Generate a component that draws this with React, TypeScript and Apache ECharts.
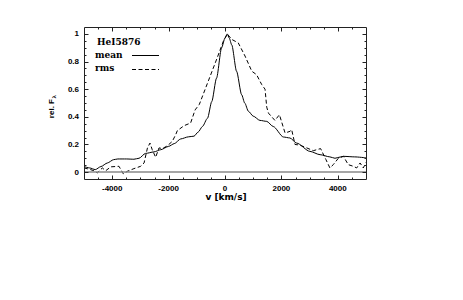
import React, { useEffect, useRef } from "react";
import * as echarts from "echarts";

// velocity (km/s) and relative flux of the mean spectrum
const meanV = [-5000, -4800, -4600, -4400, -4170, -3950, -3800, -3500, -3230, -3050, -2820, -2520, -2280, -2000, -1800, -1570, -1300, -1100, -950, -800, -620, -470, -300, -120, 0, 80, 150, 240, 410, 590, 700, 830, 1000, 1240, 1480, 1710, 2070, 2300, 2540, 3010, 3370, 3720, 3900, 4100, 4200, 4600, 5000];
const meanF = [0.04, 0.03, 0.018, 0.04, 0.066, 0.09, 0.095, 0.095, 0.093, 0.1, 0.135, 0.146, 0.162, 0.186, 0.206, 0.24, 0.255, 0.26, 0.29, 0.33, 0.39, 0.51, 0.68, 0.9, 0.97, 1.0, 0.97, 0.92, 0.73, 0.56, 0.5, 0.44, 0.405, 0.374, 0.367, 0.33, 0.254, 0.247, 0.21, 0.15, 0.126, 0.11, 0.1, 0.11, 0.114, 0.11, 0.103];

// velocity (km/s) and relative flux of the rms spectrum
const rmsV = [-5000, -4800, -4650, -4530, -4350, -4230, -4050, -3760, -3605, -3460, -3230, -2990, -2870, -2750, -2660, -2580, -2460, -2340, -2220, -2045, -1870, -1750, -1690, -1450, -1220, -1060, -910, -590, -290, -60, 80, 240, 470, 710, 950, 1120, 1300, 1420, 1480, 1540, 1770, 1930, 2130, 2305, 2364, 2482, 2660, 2900, 3130, 3390, 3580, 3720, 3840, 4020, 4200, 4370, 4550, 4670, 4790, 4905, 5000];
const rmsF = [0.03, 0.02, 0.01, -0.006, 0.03, 0.01, 0.038, 0.042, -0.013, 0.006, 0.025, 0.042, 0.066, 0.175, 0.21, 0.162, 0.107, 0.175, 0.17, 0.19, 0.222, 0.27, 0.3, 0.336, 0.355, 0.45, 0.49, 0.66, 0.82, 0.946, 1.0, 0.96, 0.935, 0.84, 0.73, 0.705, 0.634, 0.6, 0.47, 0.427, 0.374, 0.415, 0.283, 0.295, 0.307, 0.2, 0.195, 0.175, 0.155, 0.17, 0.09, 0.03, 0.054, 0.1, 0.114, 0.054, 0.042, 0.03, 0.066, 0.03, 0.07];

// axis ranges and ticks
const xRange = [-5000, 5000];
const xTickStep = 1000;
const xMajorTicks = [-4000, -2000, 0, 2000, 4000];
const xMinorTicks = [-4500, -3500, -3000, -2500, -1500, -1000, -500, 500, 1000, 1500, 2500, 3000, 3500, 4500];
const yRange = [-0.05, 1.05];
const yTickStep = 0.05;
const yMajorTicks = [0, 0.2, 0.4, 0.6, 0.8, 1];
const yMinorTicks = [0.05, 0.1, 0.15, 0.25, 0.3, 0.35, 0.45, 0.5, 0.55, 0.65, 0.7, 0.75, 0.85, 0.9, 0.95];
const yLabelValues = ["0", "0.2", "0.4", "0.6", "0.8", "1"];

const lineName = "HeI5876";
const seriesNames = ["mean", "rms"];

export default function App() {
  const ref = useRef<HTMLDivElement>(null);
  useEffect(() => {
    const chart = echarts.init(ref.current!, null, { renderer: "svg" });
    const black = "#000";
    const frame = "#222";
    const tickFont = {
      fontFamily: "Liberation Sans",
      fontWeight: "bold" as const,
      fontSize: 8,
      color: black,
    };
    const xFmt = (v: number) => {
      const r = Math.round(v);
      return xMajorTicks.indexOf(r) >= 0 ? String(r) : "";
    };
    const yFmt = (v: number) => {
      const s = String(Math.round(v * 100) / 100);
      return yLabelValues.indexOf(s) >= 0 ? s : "";
    };

    const legendFont = {
      fontFamily: "DejaVu Serif",
      fontWeight: "bold" as const,
      fontSize: 9,
      fill: black,
    };

    chart.setOption({
      animation: false,
      backgroundColor: "#fff",
      grid: { left: 84, top: 27, width: 282, height: 152 },
      xAxis: {
        type: "value",
        min: xRange[0],
        max: xRange[1],
        interval: xTickStep,
        axisLine: { show: false, onZero: false },
        axisTick: { show: false },
        axisLabel: { show: true, formatter: xFmt, margin: 5, ...tickFont },
        splitLine: { show: false },
      },
      yAxis: {
        type: "value",
        min: yRange[0],
        max: yRange[1],
        interval: yTickStep,
        axisLine: { show: false, onZero: false },
        axisTick: { show: false },
        axisLabel: { show: true, formatter: yFmt, margin: 5, ...tickFont },
        splitLine: { show: false },
      },
      series: [
        {
          name: seriesNames[0],
          type: "line",
          showSymbol: false,
          smooth: 0.25,
          smoothMonotone: "x",
          data: meanV.map((v, i) => [v, meanF[i]]),
          lineStyle: { color: black, width: 1 },
          itemStyle: { color: black },
          markLine: {
            silent: true,
            symbol: "none",
            label: { show: false },
            lineStyle: { color: "#888", width: 1.5, type: "solid" },
            data: [{ yAxis: 0 }],
          },
        },
        {
          name: seriesNames[1],
          type: "line",
          showSymbol: false,
          data: rmsV.map((v, i) => [v, rmsF[i]]),
          lineStyle: { color: black, width: 1, type: [4, 2.5] },
          itemStyle: { color: black },
        },
      ],
    });

    // frame and inside ticks on all four sides, placed through the axis scales
    const px = (v: number) => chart.convertToPixel({ xAxisIndex: 0 }, v) as number;
    const py = (v: number) => chart.convertToPixel({ yAxisIndex: 0 }, v) as number;
    const L = Math.round(px(xRange[0])) + 0.5;
    const R = Math.round(px(xRange[1])) + 0.5;
    const T = Math.round(py(yRange[1])) + 0.5;
    const B = Math.round(py(yRange[0])) + 0.5;
    const ln = (x1: number, y1: number, x2: number, y2: number) => ({
      type: "line",
      silent: true,
      z: 50,
      shape: { x1, y1, x2, y2 },
      style: { stroke: frame, lineWidth: 1 },
    });
    const marks: any[] = [ln(L, T, R, T), ln(R, T, R, B), ln(R, B, L, B), ln(L, B, L, T)];
    const xTicks = (vals: number[], len: number) =>
      vals.forEach((v) => {
        const x = Math.round(px(v)) + 0.5;
        marks.push(ln(x, B, x, B - len), ln(x, T, x, T + len));
      });
    const yTicks = (vals: number[], len: number) =>
      vals.forEach((v) => {
        const y = Math.round(py(v)) + 0.5;
        marks.push(ln(L, y, L + len, y), ln(R, y, R - len, y));
      });
    xTicks(xMajorTicks, 4);
    xTicks(xMinorTicks, 2);
    yTicks(yMajorTicks, 4);
    yTicks(yMinorTicks, 2);

    chart.setOption({
      graphic: [
        ...marks,
        {
          type: "text",
          left: 97,
          top: 37,
          style: { text: lineName, ...legendFont },
        },
        {
          type: "text",
          left: 95,
          top: 50,
          style: { text: seriesNames[0], ...legendFont },
        },
        {
          type: "text",
          left: 95,
          top: 63,
          style: { text: seriesNames[1], ...legendFont },
        },
        {
          type: "line",
          shape: { x1: 132, y1: 55.5, x2: 159, y2: 55.5 },
          style: { stroke: black, lineWidth: 1 },
        },
        {
          type: "line",
          shape: { x1: 132, y1: 69.5, x2: 159, y2: 69.5 },
          style: { stroke: black, lineWidth: 1, lineDash: [4, 2.5] },
        },
        {
          type: "text",
          x: 226,
          y: 197,
          style: {
            text: "v [km/s]",
            fontFamily: "DejaVu Sans",
            fontWeight: "bold",
            fontSize: 9,
            fill: black,
            align: "center",
            verticalAlign: "middle",
          },
        },
        {
          type: "group",
          x: 51,
          y: 106,
          rotation: Math.PI / 2,
          children: [
            {
              type: "text",
              x: 7,
              y: 0,
              style: {
                text: "rel. F",
                fontFamily: "Liberation Sans",
                fontWeight: "bold",
                fontSize: 8,
                fill: black,
                align: "right",
                verticalAlign: "middle",
              },
            },
            {
              type: "text",
              x: 7.5,
              y: 2.5,
              style: {
                text: "λ",
                fontFamily: "Liberation Sans",
                fontWeight: "bold",
                fontSize: 6,
                fill: black,
                align: "left",
                verticalAlign: "middle",
              },
            },
          ],
        },
      ],
    });
    return () => chart.dispose();
  }, []);
  return (
    <div
      ref={ref}
      style={{ position: "fixed", left: 0, top: 0, width: 463, height: 300, background: "#fff" }}
    />
  );
}
